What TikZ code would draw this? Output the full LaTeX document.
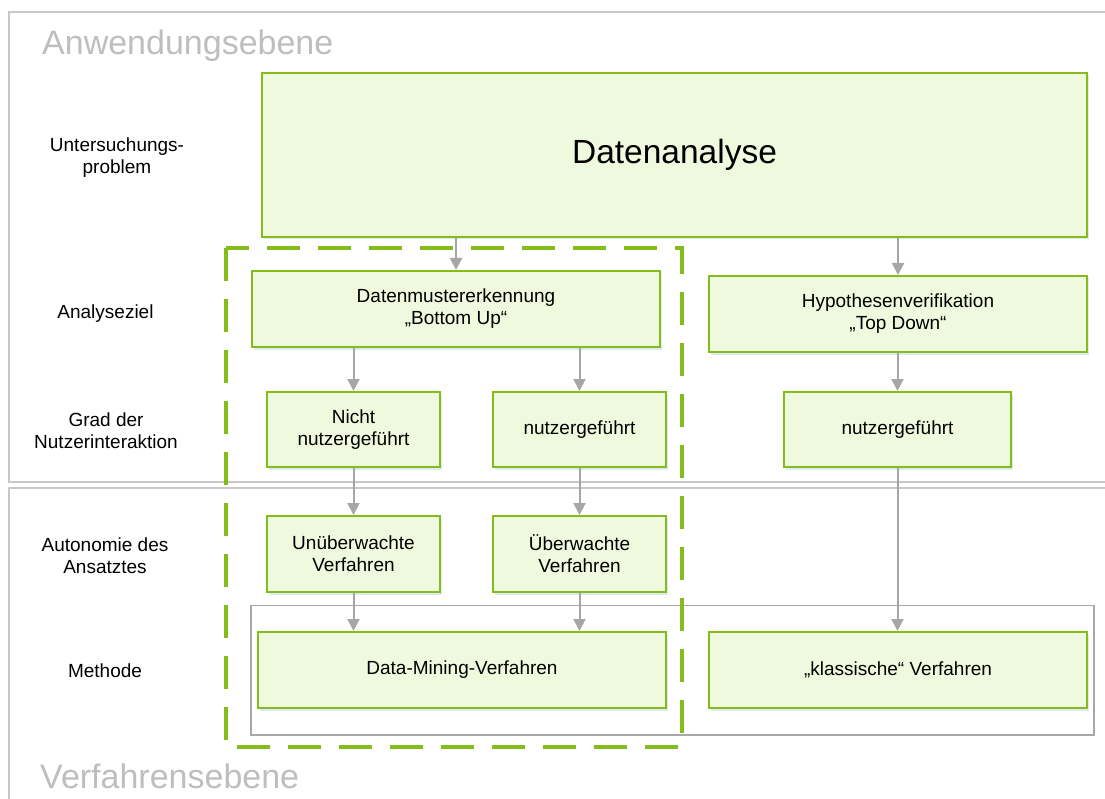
\documentclass[tikz,border=0pt]{standalone}
\usepackage{fontspec}
\setmainfont{Liberation Sans}
\usetikzlibrary{arrows.meta,shadows}
\definecolor{boxfill}{RGB}{239,249,221}
\definecolor{boxline}{RGB}{132,189,26}
\definecolor{arrgray}{RGB}{166,166,166}
\definecolor{framegray}{RGB}{200,200,200}
\definecolor{innergray}{RGB}{168,168,168}
\definecolor{leveltext}{RGB}{190,190,190}
\definecolor{shadowblue}{RGB}{200,218,240}
\tikzset{
  box/.style={draw=boxline, fill=boxfill, line width=2pt, align=center,
    font=\fontsize{19}{22}\selectfont, inner sep=0pt,
    drop shadow={shadow xshift=1.5pt, shadow yshift=-2.5pt, fill=shadowblue, opacity=0.6}},
  lbl/.style={align=center, font=\fontsize{19}{22}\selectfont, inner sep=0pt},
  level/.style={anchor=base west, font=\fontsize{34}{40}\selectfont, text=leveltext, inner sep=0pt},
  arr/.style={draw=arrgray, line width=2pt, -{Triangle[length=12pt,width=12pt]}},
  frame/.style={draw=framegray, line width=1.5pt},
}
\begin{document}
\begin{tikzpicture}[x=1pt,y=-1pt]
\useasboundingbox (0,0) rectangle (1105,799);
\begin{scope}
\clip (0,0) rectangle (1105,799);
% level frames
\draw[frame] (9,12) rectangle (1115,482);
\draw[frame] (9,488) rectangle (1115,815);
\end{scope}
\node[level] (lvA) at (42,55) {Anwendungsebene};
\node[level] (lvV) at (40,788) {Verfahrensebene};
% row labels
\node[lbl] (l1) at (117,158) {Untersuchungs-\\problem};
\node[lbl] (l2) at (105.5,314) {Analyseziel};
\node[lbl] (l3) at (106,431) {Grad der\\Nutzerinteraktion};
\node[lbl] (l4) at (105,556) {Autonomie des\\Ansatztes};
\node[lbl] (l5) at (105,671) {Methode};
% inner gray method box
\draw[draw=innergray, line width=1.5pt] (251,605.5) rectangle (1094,735);
% boxes
\node[box, minimum width=825pt, minimum height=164pt, font=\fontsize{33.5}{40}\selectfont] (ana) at (674.5,155) {Datenanalyse};
\node[box, minimum width=408pt, minimum height=76pt] (dm) at (456,309) {Datenmustererkennung\\„Bottom Up“};
\node[box, minimum width=378pt, minimum height=76pt] (hv) at (898,314) {Hypothesenverifikation\\„Top Down“};
\node[box, minimum width=173pt, minimum height=75pt] (nn) at (353.5,429.5) {Nicht\\nutzergeführt};
\node[box, minimum width=173pt, minimum height=75pt] (ng1) at (579.5,429.5) {nutzergeführt};
\node[box, minimum width=227pt, minimum height=75pt] (ng2) at (897.5,429.5) {nutzergeführt};
\node[box, minimum width=173pt, minimum height=76pt] (uv) at (353.5,554) {Unüberwachte\\Verfahren};
\node[box, minimum width=173pt, minimum height=76pt] (ue) at (579.5,554) {Überwachte\\Verfahren};
\node[box, minimum width=408pt, minimum height=76pt] (dmv) at (462,670) {Data-Mining-Verfahren};
\node[box, minimum width=378pt, minimum height=76pt] (kv) at (898,670) {„klassische“ Verfahren};
% arrows
\draw[arr] (ana.south -| dm.north) -- (dm.north);
\draw[arr] (ana.south -| hv.north) -- (hv.north);
\draw[arr] (dm.south -| nn.north) -- (nn.north);
\draw[arr] (dm.south -| ng1.north) -- (ng1.north);
\draw[arr] (hv.south -| ng2.north) -- (ng2.north);
\draw[arr] (nn.south) -- (uv.north);
\draw[arr] (ng1.south) -- (ue.north);
\draw[arr] (uv.south) -- (uv.south |- dmv.north);
\draw[arr] (ue.south) -- (ue.south |- dmv.north);
\draw[arr] (ng2.south) -- (ng2.south |- kv.north);
% dashed selection
\draw[draw=boxline, line width=4pt, dash pattern=on 33pt off 18pt] (226,248) rectangle (682,747);
\end{tikzpicture}
\end{document}
